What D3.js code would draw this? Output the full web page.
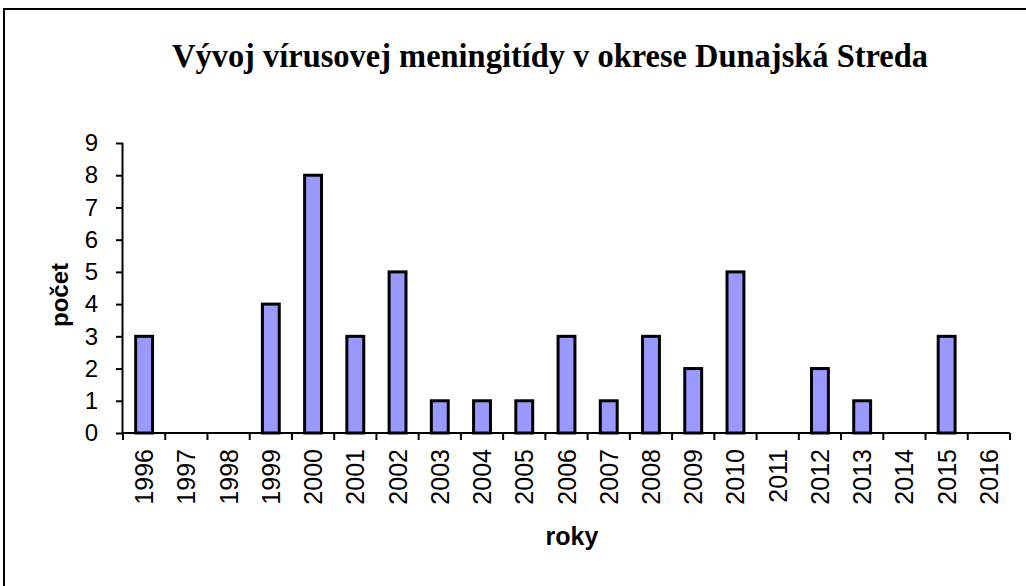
<!DOCTYPE html>
<html><head><meta charset="utf-8">
<script src="https://cdn.jsdelivr.net/npm/d3@7"></script>
<style>html,body{margin:0;padding:0;background:#fff;}</style>
</head><body>
<script>
const years = ["1996","1997","1998","1999","2000","2001","2002","2003","2004","2005","2006","2007","2008","2009","2010","2011","2012","2013","2014","2015","2016"];
const counts = [3,0,0,4,8,3,5,1,1,1,3,1,3,2,5,0,2,1,0,3,0];
const yTicks = [0,1,2,3,4,5,6,7,8,9];
const title = "Vývoj vírusovej meningitídy v okrese Dunajská Streda";
const xTitle = "roky";
const yTitle = "počet";

(function () {
const W = 1026, H = 586;
const svg = d3.select("body").append("svg").attr("width", W).attr("height", H);

// outer frame
svg.append("rect").attr("x", 4).attr("y", 9).attr("width", 1030).attr("height", 600)
  .attr("fill", "none").attr("stroke", "#000").attr("stroke-width", 2);

const pL = 123, pR = 1010, pT = 143, pB = 433;
const x = d3.scaleBand().domain(years).range([pL, pR]).paddingInner(0.6).paddingOuter(0.3);
const y = d3.scaleLinear().domain([0, 9]).range([pB, pT]);

// bars
svg.append("g").selectAll("rect").data(years).join("rect")
  .attr("x", d => x(d))
  .attr("y", (d, i) => y(counts[i]))
  .attr("width", x.bandwidth())
  .attr("height", (d, i) => y(0) - y(counts[i]))
  .attr("fill", "#9999ff").attr("stroke", "#000").attr("stroke-width", 3)
  .attr("display", (d, i) => counts[i] > 0 ? null : "none");

// y axis
const yAxis = svg.append("g").attr("transform", `translate(${pL},0)`)
  .call(d3.axisLeft(y).tickValues(yTicks).tickSize(7).tickPadding(18).tickFormat(d3.format("d")));
yAxis.select(".domain").attr("stroke-width", 2).attr("d", `M-0.5,${pT}V${pB}`);
yAxis.selectAll(".tick line").attr("stroke-width", 2);
yAxis.selectAll("text").attr("font-family", "Liberation Sans, Arial, sans-serif").attr("font-size", 24).attr("fill", "#000");

// x axis: ticks at band boundaries
const bounds = d3.range(years.length + 1).map(i => pL + i * (pR - pL) / years.length);
const xg = svg.append("g");
xg.append("line").attr("x1", pL).attr("x2", pR).attr("y1", pB).attr("y2", pB)
  .attr("stroke", "#000").attr("stroke-width", 2);
xg.selectAll("line.t").data(bounds).join("line").attr("class", "t")
  .attr("x1", d => d).attr("x2", d => d).attr("y1", pB).attr("y2", pB + 7)
  .attr("stroke", "#000").attr("stroke-width", 2);
xg.selectAll("text").data(years).join("text")
  .attr("transform", d => `translate(${x(d) + x.bandwidth() / 2 + 9},449) rotate(-90)`)
  .attr("text-anchor", "end")
  .attr("font-family", "Liberation Sans, Arial, sans-serif").attr("font-size", 25).attr("fill", "#000")
  .text(d => d);

// titles
svg.append("text").attr("x", 550).attr("y", 67).attr("text-anchor", "middle")
  .attr("font-family", "Liberation Serif, Times New Roman, serif").attr("font-weight", "bold")
  .attr("font-size", 34).attr("textLength", 756).attr("lengthAdjust", "spacingAndGlyphs").text(title);
svg.append("text").attr("x", 572).attr("y", 545).attr("text-anchor", "middle")
  .attr("font-family", "Liberation Sans, Arial, sans-serif").attr("font-weight", "bold")
  .attr("font-size", 25).text(xTitle);
svg.append("text").attr("transform", "translate(68,295) rotate(-90)").attr("text-anchor", "middle")
  .attr("font-family", "Liberation Sans, Arial, sans-serif").attr("font-weight", "bold")
  .attr("font-size", 24).text(yTitle);
})();
</script>
</body></html>
